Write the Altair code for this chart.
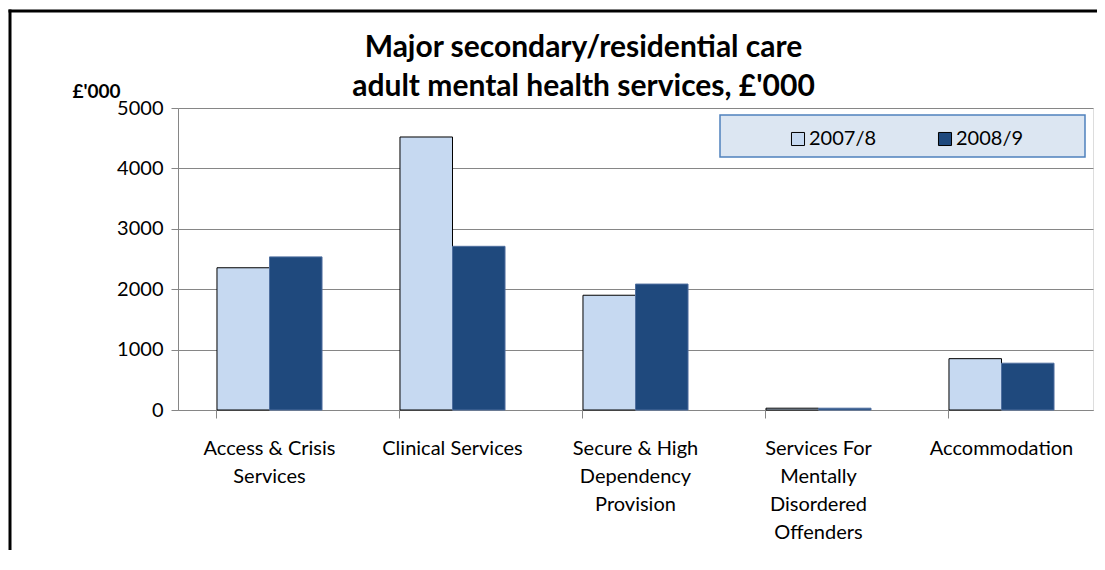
import altair as alt
import pandas as pd

categories = ["Access & Crisis|Services", "Clinical Services", "Secure & High|Dependency|Provision",
              "Services For|Mentally|Disordered|Offenders", "Accommodation"]
years = ["2007/8", "2008/9"]
v2007 = [2355, 4520, 1900, 30, 850]
v2008 = [2535, 2710, 2085, 30, 775]

rows = []
for c, a, b in zip(categories, v2007, v2008):
    rows.append({"cat": c, "year": years[0], "value": a})
    rows.append({"cat": c, "year": years[1], "value": b})
df = pd.DataFrame(rows)

FONT = "Lato"
GRID = "#868686"
W, H = 915, 302

bars = alt.Chart(df).mark_bar(strokeWidth=1).encode(
    x=alt.X("cat:N", sort=categories, title=None,
            scale=alt.Scale(paddingInner=0.426, paddingOuter=0.213),
            axis=alt.Axis(labelExpr="split(datum.label, '|')", labelAngle=0,
                          labelFontSize=20, labelFont=FONT, labelColor="#000000",
                          labelLineHeight=28, labelPadding=20, labelBaseline="top",
                          tickSize=8, tickColor=GRID, domainColor=GRID, bandPosition=0,
                          labelBound=False, labelOverlap=False, grid=False, labelLimit=300)),
    xOffset=alt.XOffset("year:N", sort=years, scale=alt.Scale(paddingInner=0, paddingOuter=0)),
    y=alt.Y("value:Q", scale=alt.Scale(domain=[0, 5000]),
            axis=alt.Axis(values=[0, 1000, 2000, 3000, 4000, 5000], title="£'000",
                          titleAngle=0, titleX=-106, titleY=-11, titleAlign="left",
                          titleBaseline="alphabetic", titleFont=FONT, titleFontSize=19,
                          titleFontWeight="bold", titleColor="#000000",
                          labelFontSize=20, labelFont=FONT, labelColor="#000000",
                          labelPadding=8, tickSize=7, tickColor=GRID, domainColor=GRID,
                          gridColor=GRID, gridOpacity=1, format="d")),
    color=alt.Color("year:N", sort=years,
                    scale=alt.Scale(domain=years, range=["#c6d9f1", "#1f497d"]),
                    legend=alt.Legend(title=None, orient="none", legendX=610, legendY=21,
                                      direction="horizontal", columns=2, padding=0,
                                      symbolType="square", symbolSize=170,
                                      symbolStrokeColor="#000000", symbolStrokeWidth=1,
                                      labelFont=FONT, labelFontSize=20, labelColor="#000000",
                                      columnPadding=58, labelOffset=1)),
    stroke=alt.condition(alt.datum.year == "2007/8", alt.value("#000000"), alt.value("#4f6f9f")),
)

one = pd.DataFrame({"k": [0]})
legend_box = alt.Chart(one).mark_rect(fill="#dce6f2", stroke="#4f81bd", strokeWidth=1.5).encode(
    x=alt.value(542), x2=alt.value(907), y=alt.value(7), y2=alt.value(49))

frame_top = alt.Chart(one).mark_rule(color="#000000", strokeWidth=3).encode(
    x=alt.value(-169.5), x2=alt.value(W + 300), y=alt.value(-97))
frame_left = alt.Chart(one).mark_rule(color="#000000", strokeWidth=3).encode(
    x=alt.value(-168), y=alt.value(-98.5), y2=alt.value(H + 300))

chart = alt.layer(legend_box, bars, frame_top, frame_left).properties(
    width=W, height=H,
    title=alt.TitleParams(["Major secondary/residential care", "adult mental health services, £'000"],
                          font=FONT, fontSize=30, fontWeight="bold", color="#000000",
                          anchor="middle", frame="group", dx=-52, dy=94, lineHeight=39,
                          offset=0),
    autosize=alt.AutoSizeParams(type="none"),
    padding={"left": 170, "top": 100, "right": 4, "bottom": 140},
).configure_view(stroke=None).configure(background="#ffffff")

chart.save("out.html", embed_options={"renderer": "svg", "actions": False})
